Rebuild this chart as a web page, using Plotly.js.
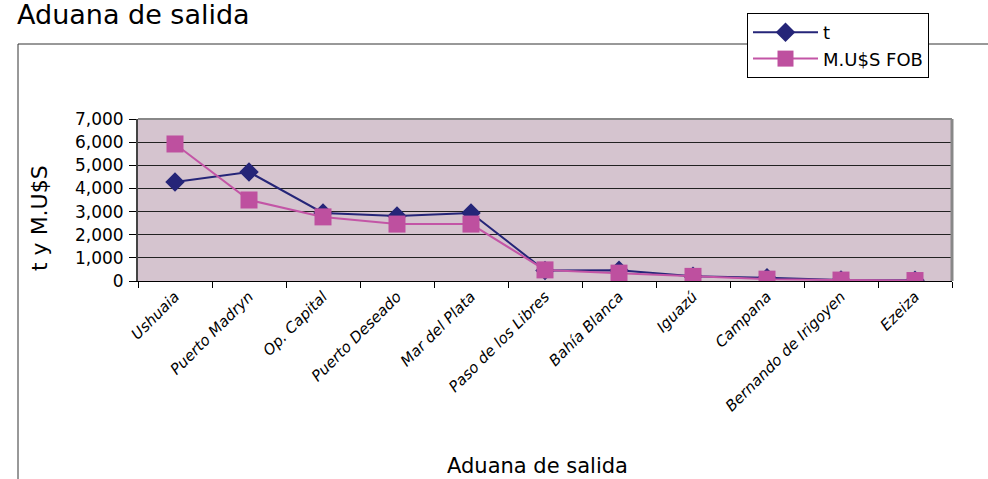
<!DOCTYPE html>
<html><head><meta charset="utf-8">
<script src="https://cdn.plot.ly/plotly-3.0.1.min.js"></script>
<style>html,body{margin:0;padding:0;background:#fff}#c{width:988px;height:479px}</style>
</head><body><div id="c"></div>
<script>
const categories = ["Ushuaia","Puerto Madryn","Op. Capital","Puerto Deseado","Mar del Plata","Paso de los Libres","Bahía Blanca","Iguazú","Campana","Bernando de Irigoyen","Ezeiza"];
const toneladas = [4280, 4710, 2940, 2810, 2940, 450, 460, 200, 140, 40, 30];
const musFob = [5920, 3500, 2770, 2460, 2460, 480, 340, 200, 80, 40, 20];
const yTicks = [0,1000,2000,3000,4000,5000,6000,7000];

const L = 138, R = 952, T = 119, B = 281;
const W = R - L, H = B - T;
const px = x => (x - L) / W, py = y => (B - y) / H;
const font = "DejaVu Sans, Verdana, sans-serif";

const traces = [
 {x: categories, y: toneladas, name: "t", type: "scatter", mode: "lines+markers",
  line: {color: "#252578", width: 2}, marker: {symbol: "diamond", size: 15, color: "#252578"}},
 {x: categories, y: musFob, name: "M.U$S FOB", type: "scatter", mode: "lines+markers",
  line: {color: "#C355A6", width: 2}, marker: {symbol: "square", size: 17, color: "#BE509F"}}
];

const layout = {
 width: 988, height: 479,
 margin: {l: L, r: 988 - R, t: T, b: 479 - B, pad: 0},
 paper_bgcolor: "#fff", plot_bgcolor: "#D5C4CF",
 font: {family: font, color: "#000"},
 showlegend: true,
 legend: {x: px(747), y: py(13), xanchor: "left", yanchor: "top", bgcolor: "#fff",
  bordercolor: "#000", borderwidth: 1, font: {size: 18, family: font}, tracegroupgap: 6, itemwidth: 65,
  entrywidth: 205, entrywidthmode: "pixels"},
 xaxis: {type: "category", tickangle: -45, tickson: "boundaries", ticks: "outside", ticklen: 6,
  tickcolor: "#000", showline: true, linecolor: "#000", linewidth: 1, showgrid: false,
  tickfont: {size: 15, family: font, style: "italic"}, range: [-0.5, 10.5], automargin: false},
 yaxis: {range: [0, 7000], tickvals: yTicks, tickformat: ",d", ticks: "outside", ticklen: 7, tickcolor: "#000",
  showline: true, linecolor: "#444", linewidth: 2, showgrid: true, gridcolor: "#222", gridwidth: 1,
  zeroline: false, tickfont: {size: 17, family: font}, ticklabelstandoff: 2, automargin: false},
 annotations: [
  {text: "Aduana de salida", xref: "paper", yref: "paper", x: px(15), y: py(14), xanchor: "left", yanchor: "middle",
   showarrow: false, font: {size: 27, family: font, color: "#000"}},
  {text: "Aduana de salida", xref: "paper", yref: "paper", x: px(537), y: py(466), xanchor: "center", yanchor: "middle",
   showarrow: false, font: {size: 21, family: font, color: "#000"}},
  {text: "t y M.U$S", xref: "paper", yref: "paper", x: px(39), y: py(218), xanchor: "center", yanchor: "middle",
   textangle: -90, showarrow: false, font: {size: 22, family: font, color: "#000"}}
 ],
 shapes: [
  {type: "line", xref: "paper", yref: "paper", x0: px(18), x1: px(990), y0: py(44), y1: py(44), line: {color: "#333", width: 1}, layer: "below"},
  {type: "line", xref: "paper", yref: "paper", x0: px(18), x1: px(18), y0: py(44), y1: py(481), line: {color: "#333", width: 1}, layer: "below"},
  {type: "line", xref: "paper", yref: "paper", x0: 0, x1: 1, y0: 1, y1: 1, line: {color: "#888", width: 2}},
  {type: "line", xref: "paper", yref: "paper", x0: 1, x1: 1, y0: 0, y1: 1, line: {color: "#888", width: 3}}
 ]
};

Plotly.newPlot("c", traces, layout, {displayModeBar: false, staticPlot: true});
</script></body></html>
